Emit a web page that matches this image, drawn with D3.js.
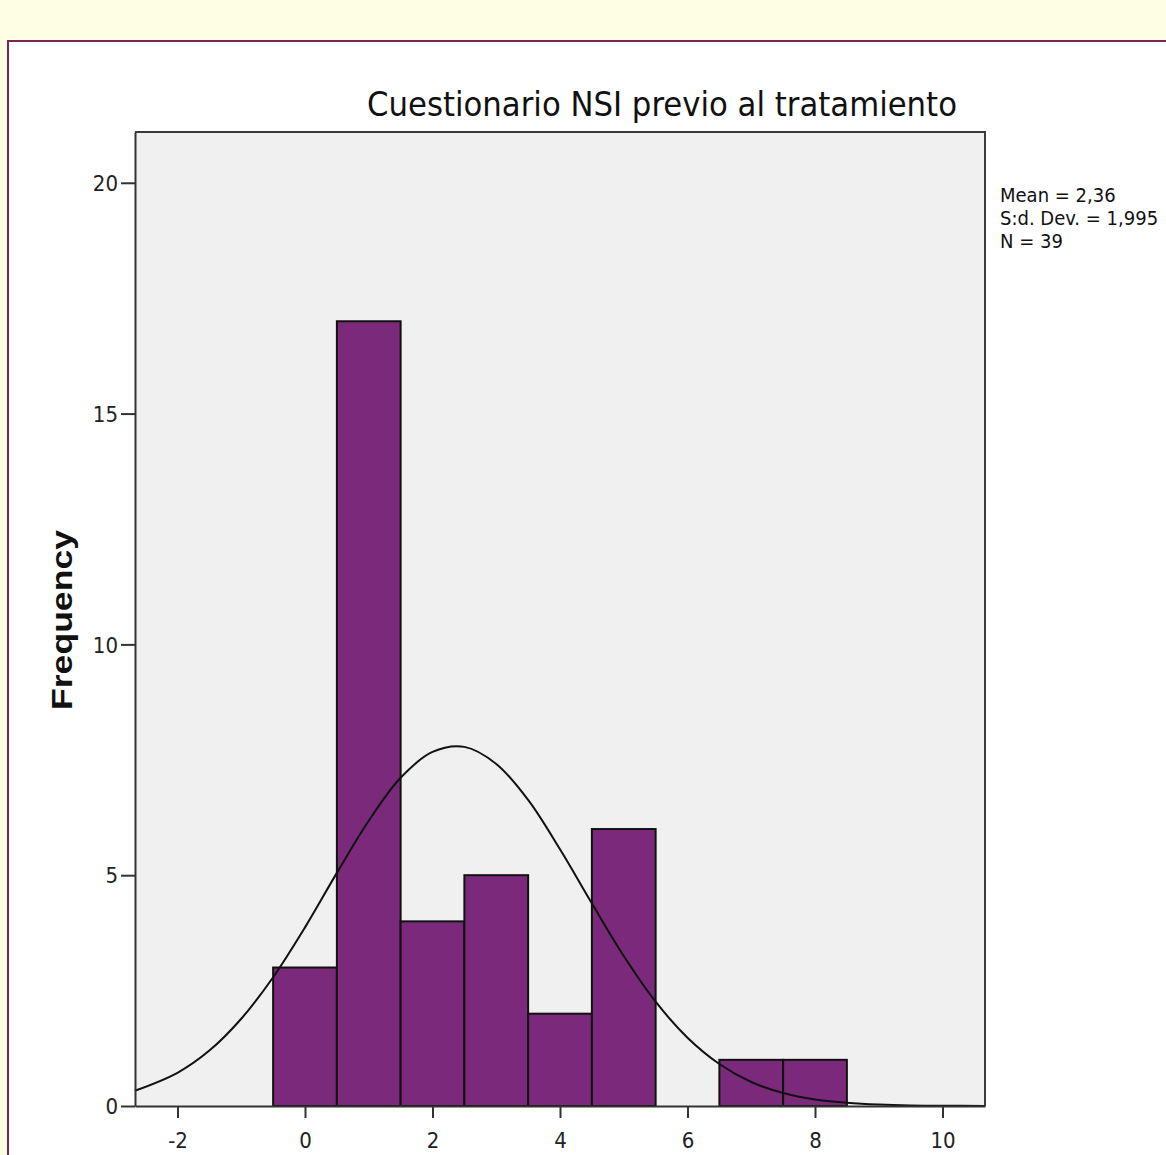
<!DOCTYPE html>
<html>
<head>
<meta charset="utf-8">
<script src="https://cdn.jsdelivr.net/npm/d3@7"></script>
<style>
  body { margin: 0; background: #fefee4; }
  svg { display: block; }
  .narrow { font-family: "Liberation Sans Narrow", "Arial Narrow", "DejaVu Sans Condensed", sans-serif; font-stretch: condensed; }
</style>
</head>
<body>
<svg id="chart" width="1166" height="1155"></svg>
<script>
// histogram bins (lower edges, width 1) and their counts
var binStarts = [-0.5, 0.5, 1.5, 2.5, 3.5, 4.5, 5.5, 6.5, 7.5];
var counts = [3, 17, 4, 5, 2, 6, 0, 1, 1];

// normal curve
var curveX = [-2.67, -2, -1.5, -1, -0.5, 0, 0.5, 1, 1.5, 2, 2.5, 3, 3.5, 4, 4.5, 5, 5.5, 6, 6.5, 7, 7.5, 8, 8.5, 9, 9.5, 10, 10.67];
var curveY = [0.33, 0.72, 1.2, 1.89, 2.79, 3.87, 5.05, 6.18, 7.11, 7.67, 7.78, 7.41, 6.63, 5.56, 4.39, 3.25, 2.26, 1.48, 0.91, 0.52, 0.28, 0.14, 0.07, 0.03, 0.01, 0.005, 0.001];

var xTicks = [-2, 0, 2, 4, 6, 8, 10];
var yTicks = [0, 5, 10, 15, 20];
var statLines = ["Mean = 2,36", "S:d. Dev. = 1,995", "N = 39"];
var title = "Cuestionario NSI previo al tratamiento";
var yLabel = "Frequency";

var svg = d3.select("#chart");

// page background + framed panel
svg.append("rect").attr("width", 1166).attr("height", 1155).attr("fill", "#fefee4");
svg.append("rect")
    .attr("x", 8).attr("y", 41)
    .attr("width", 1200).attr("height", 1200)
    .attr("fill", "#ffffff")
    .attr("stroke", "#7d2552")
    .attr("stroke-width", 2);

var plot = {left: 135, right: 985, top: 132, bottom: 1106};

var x = d3.scaleLinear().domain([-8 / 3, 32 / 3]).range([plot.left, plot.right]);
var y = d3.scaleLinear().domain([0, 21.1]).range([plot.bottom, plot.top]);

svg.append("rect")
    .attr("x", plot.left).attr("y", plot.top)
    .attr("width", plot.right - plot.left).attr("height", plot.bottom - plot.top)
    .attr("fill", "#f0f0f0");

// bars
svg.append("g").selectAll("rect")
    .data(binStarts.map(function(b, i) { return {x0: b, n: counts[i]}; }).filter(function(d) { return d.n > 0; }))
    .enter().append("rect")
    .attr("x", function(d) { return x(d.x0); })
    .attr("y", function(d) { return y(d.n); })
    .attr("width", function(d) { return x(d.x0 + 1) - x(d.x0); })
    .attr("height", function(d) { return y(0) - y(d.n); })
    .attr("fill", "#7b297b")
    .attr("stroke", "#111")
    .attr("stroke-width", 2);

// normal curve
var line = d3.line()
    .x(function(d, i) { return x(curveX[i]); })
    .y(function(d) { return y(d); })
    .curve(d3.curveCatmullRom);

svg.append("path")
    .datum(curveY)
    .attr("d", line)
    .attr("fill", "none")
    .attr("stroke", "#111")
    .attr("stroke-width", 2);

// frame (top + right)
svg.append("path")
    .attr("d", "M" + plot.left + "," + plot.top + "H" + plot.right + "V" + plot.bottom)
    .attr("fill", "none")
    .attr("stroke", "#3a3a3a")
    .attr("stroke-width", 2);

// axes
var fmt = function(d) { return String(d); };
var yAxis = svg.append("g")
    .attr("class", "narrow")
    .attr("transform", "translate(" + plot.left + ",0)")
    .call(d3.axisLeft(y).tickValues(yTicks).tickFormat(fmt).tickSize(14).tickPadding(3).tickSizeOuter(0));
var xAxis = svg.append("g")
    .attr("class", "narrow")
    .attr("transform", "translate(0," + plot.bottom + ")")
    .call(d3.axisBottom(x).tickValues(xTicks).tickFormat(fmt).tickSize(12).tickPadding(14).tickSizeOuter(0));

[yAxis, xAxis].forEach(function(a) {
    a.select(".domain").attr("stroke", "#333").attr("stroke-width", 2);
    a.selectAll(".tick line").attr("stroke", "#333").attr("stroke-width", 2);
    a.selectAll(".tick text").attr("fill", "#222").style("font-size", "22px").attr("font-family", null);
});
yAxis.selectAll(".tick text").attr("dy", "0.35em");

// title
svg.append("text")
    .attr("class", "narrow")
    .attr("x", 662).attr("y", 116)
    .attr("text-anchor", "middle")
    .attr("textLength", 590)
    .attr("lengthAdjust", "spacingAndGlyphs")
    .style("font-size", "34px")
    .attr("fill", "#111")
    .text(title);

// y label
svg.append("text")
    .attr("transform", "translate(72,620) rotate(-90)")
    .attr("text-anchor", "middle")
    .attr("textLength", 180)
    .attr("lengthAdjust", "spacingAndGlyphs")
    .style("font-family", "Liberation Sans, Arial, sans-serif")
    .style("font-weight", "bold")
    .style("font-size", "30px")
    .attr("fill", "#111")
    .text(yLabel);

// stats
svg.append("g").attr("class", "narrow").selectAll("text")
    .data(statLines)
    .enter().append("text")
    .attr("x", 1000)
    .attr("y", function(d, i) { return 202 + i * 23; })
    .style("font-size", "20px")
    .attr("fill", "#111")
    .text(function(d) { return d; });
</script>
</body>
</html>
